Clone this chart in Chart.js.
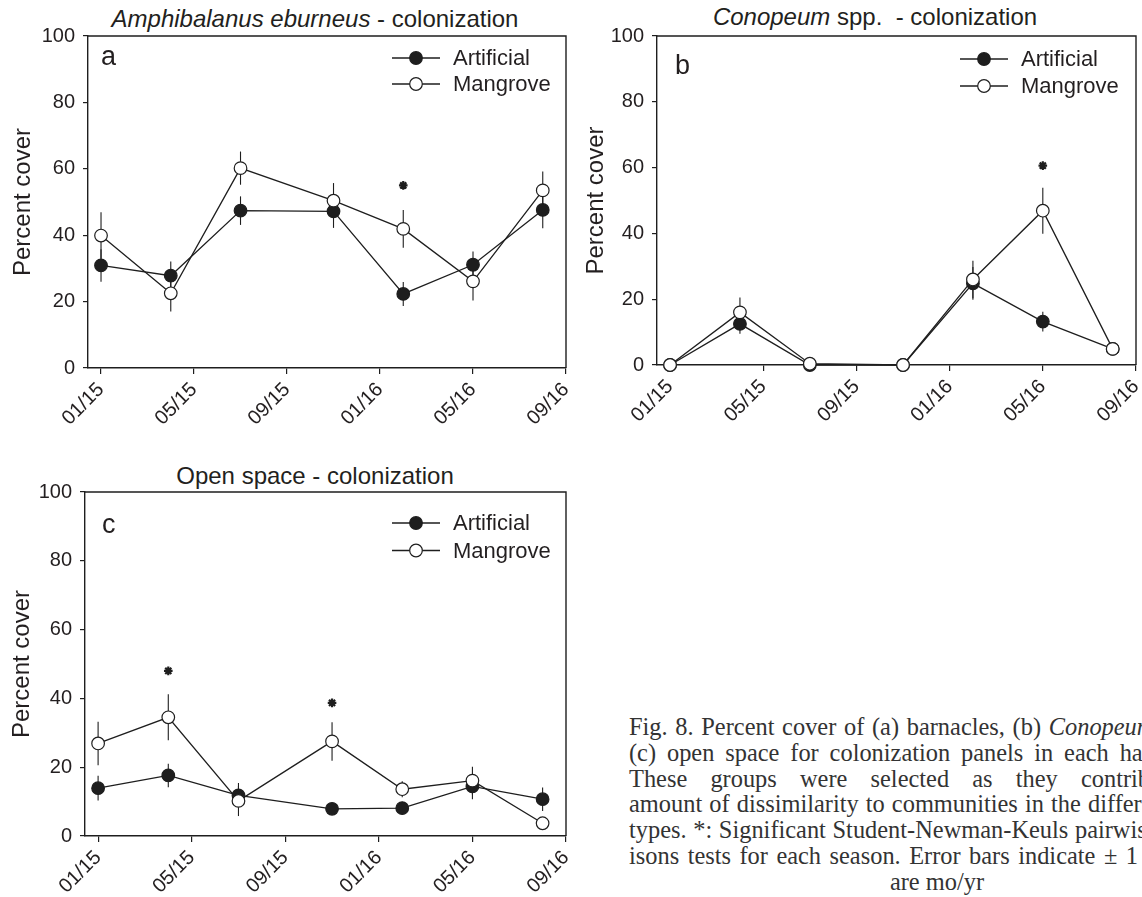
<!DOCTYPE html>
<html>
<head>
<meta charset="utf-8">
<title>Percent cover - colonization</title>
<script src="https://cdn.jsdelivr.net/npm/chart.js@4.4.0/dist/chart.umd.min.js"></script>
<style>
  html, body { margin: 0; padding: 0; background: #fff; }
  body { width: 1142px; height: 897px; overflow: hidden; position: relative;
         font-family: 'Liberation Sans', Arial, sans-serif; color: #231f20; }
  .panel { position: absolute; }
  .ptitle { position: absolute; transform: translate(-50%, -50%); white-space: nowrap; font-size: 24px; }
  .caption { position: absolute; left: 629px; top: 714px; width: 616px;
             font-family: 'Liberation Serif', 'Times New Roman', serif; font-size: 24.4px;
             line-height: 25.8px; color: #333; }
  .caption div { text-align: justify; text-align-last: justify; }
  .caption div.last { text-align: center; text-align-last: center; }
</style>
</head>
<body>

<div class="ptitle" style="left:315px; top:19px;"><i>Amphibalanus eburneus</i> - colonization</div>
<div class="ptitle" style="left:875px; top:17px;"><i>Conopeum</i> spp.&nbsp; - colonization</div>
<div class="ptitle" style="left:315px; top:476px;">Open space - colonization</div>

<div class="panel" id="boxA"><canvas id="chartA"></canvas></div>
<div class="panel" id="boxB"><canvas id="chartB"></canvas></div>
<div class="panel" id="boxC"><canvas id="chartC"></canvas></div>

<div class="caption">
  <div>Fig. 8. Percent cover of (a) barnacles, (b) <i>Conopeum</i> spp. and</div>
  <div>(c) open space for colonization panels in each habitat type.</div>
  <div>These groups were selected as they contributed the</div>
  <div>amount of dissimilarity to communities in the different habitat</div>
  <div>types. *: Significant Student-Newman-Keuls pairwise compar-</div>
  <div>isons tests for each season. Error bars indicate ± 1 SE. Dates</div>
  <div class="last">are mo/yr</div>
</div>

<script>
// sampling dates, as months after 01/15
const months = [0, 3, 6, 10, 13, 16, 19];
const tickMonths = [0, 4, 8, 12, 16, 20];
const tickLabels = ['01/15', '05/15', '09/15', '01/16', '05/16', '09/16'];
const seriesNames = ['Artificial', 'Mangrove'];

// (a) Amphibalanus eburneus
const barnArtificial = [30.9, 27.8, 47.4, 47.2, 22.3, 31.1, 47.6];
const barnArtificialErr = [4.9, 4.3, 4.3, 5.0, 3.6, 4.0, 5.5];
const barnMangrove = [39.9, 22.5, 60.2, 50.4, 41.9, 26.1, 53.5];
const barnMangroveErr = [7.0, 5.5, 5.0, 5.3, 5.7, 5.8, 5.7];
const barnSigX = [13];
const barnSigY = [55];

// (b) Conopeum spp.
const conoArtificial = [0, 12.5, 0, 0, 24.8, 13.2, 4.9];
const conoArtificialErr = [0, 3.0, 0, 0, 5.0, 3.0, 0];
const conoMangrove = [0, 16.0, 0.4, 0, 26.0, 46.9, 4.9];
const conoMangroveErr = [0, 4.5, 0, 0, 5.7, 7.0, 0];
const conoSigX = [16];
const conoSigY = [60.6];

// (c) Open space
const openArtificial = [13.9, 17.6, 11.8, 7.9, 8.1, 14.4, 10.7];
const openArtificialErr = [3.6, 3.4, 3.6, 1.0, 1.0, 3.7, 3.4];
const openMangrove = [26.9, 34.5, 10.2, 27.5, 13.6, 16.1, 3.7];
const openMangroveErr = [6.3, 6.7, 4.4, 5.6, 2.3, 4.0, 1.0];
const openSigX = [3, 10];
const openSigY = [48, 38.7];

const ink = '#1e1e1e';
const textInk = '#231f20';
Chart.defaults.font.family = "'Liberation Sans', Arial, sans-serif";
Chart.defaults.color = textInk;

// vertical +/- error lines, drawn under lines and markers
const errorBars = {
    id: 'errorBars',
    beforeDatasetsDraw(chart) {
        const ctx = chart.ctx;
        const xs = chart.scales.x, ys = chart.scales.y;
        ctx.save();
        ctx.strokeStyle = ink;
        ctx.lineWidth = 1.1;
        chart.data.datasets.forEach(ds => {
            if (!ds.errors) return;
            ds.data.forEach((p, i) => {
                const e = ds.errors[i];
                if (!e) return;
                const x = xs.getPixelForValue(p.x);
                ctx.beginPath();
                ctx.moveTo(x, ys.getPixelForValue(p.y - e));
                ctx.lineTo(x, ys.getPixelForValue(p.y + e));
                ctx.stroke();
            });
        });
        ctx.restore();
    }
};

// closes the plot box (top and right sides)
const frame = {
    id: 'frame',
    beforeDatasetsDraw(chart) {
        const a = chart.chartArea, ctx = chart.ctx;
        ctx.save();
        ctx.strokeStyle = ink;
        ctx.lineWidth = 1.4;
        ctx.beginPath();
        ctx.moveTo(a.left, a.top);
        ctx.lineTo(a.right, a.top);
        ctx.lineTo(a.right, a.bottom);
        ctx.stroke();
        ctx.restore();
    }
};

// panel letter + line/marker legend
const decor = {
    id: 'decor',
    afterDraw(chart, args, opts) {
        const a = chart.chartArea, ctx = chart.ctx;
        ctx.save();
        ctx.fillStyle = textInk;
        ctx.font = "27px 'Liberation Sans', Arial, sans-serif";
        ctx.textBaseline = 'alphabetic';
        ctx.textAlign = 'left';
        ctx.fillText(opts.letter, a.left + opts.letterX, a.top + opts.letterY);

        const x0 = a.right - opts.legendX;
        chart.data.datasets.filter(ds => seriesNames.includes(ds.label)).forEach((ds, i) => {
            const y = a.top + opts.legendY + i * opts.legendGap;
            ctx.strokeStyle = ink;
            ctx.lineWidth = 1.3;
            ctx.beginPath();
            ctx.moveTo(x0, y);
            ctx.lineTo(x0 + 48, y);
            ctx.stroke();
            ctx.beginPath();
            ctx.arc(x0 + 24, y, 6.3, 0, Math.PI * 2);
            ctx.fillStyle = ds.pointBackgroundColor;
            ctx.fill();
            ctx.lineWidth = 1.2;
            ctx.stroke();
            ctx.fillStyle = textInk;
            ctx.font = "22px 'Liberation Sans', Arial, sans-serif";
            ctx.textBaseline = 'middle';
            ctx.fillText(ds.label, x0 + 61, y + 1);
        });
        ctx.restore();
    }
};

function makePanel(boxId, canvasId, cfg) {
    const box = document.getElementById(boxId);
    const padRight = 24, xAxisH = 75;
    box.style.left = cfg.boxLeft + 'px';
    box.style.top = cfg.boxTop + 'px';
    box.style.width = (cfg.area.right - cfg.boxLeft + padRight) + 'px';
    box.style.height = (cfg.area.bottom - cfg.boxTop + xAxisH) + 'px';
    const yAxisW = cfg.area.left - cfg.boxLeft;

    const toPoints = vals => months.map((m, i) => ({ x: m, y: vals[i] }));

    new Chart(document.getElementById(canvasId), {
        type: 'line',
        data: {
            datasets: [
                {
                    label: seriesNames[0],
                    data: toPoints(cfg.artificial),
                    errors: cfg.artificialErr,
                    borderColor: ink,
                    borderWidth: 1.3,
                    pointBackgroundColor: ink,
                    pointBorderColor: ink,
                    pointBorderWidth: 1.2,
                    pointRadius: 6.3,
                    pointHoverRadius: 6.3,
                    tension: 0,
                    clip: false,
                    order: 2
                },
                {
                    label: seriesNames[1],
                    data: toPoints(cfg.mangrove),
                    errors: cfg.mangroveErr,
                    borderColor: ink,
                    borderWidth: 1.3,
                    pointBackgroundColor: '#ffffff',
                    pointBorderColor: ink,
                    pointBorderWidth: 1.2,
                    pointRadius: 6.3,
                    pointHoverRadius: 6.3,
                    tension: 0,
                    clip: false,
                    order: 1
                },
                {
                    label: 'significant',
                    data: cfg.sigX.map((x, i) => ({ x: x, y: cfg.sigY[i] })),
                    showLine: false,
                    pointStyle: 'star',
                    pointRadius: 4.3,
                    pointBorderWidth: 2.2,
                    pointBorderColor: ink,
                    borderColor: ink,
                    clip: false,
                    order: 0
                }
            ]
        },
        options: {
            responsive: true,
            maintainAspectRatio: false,
            animation: false,
            events: [],
            layout: { padding: { top: cfg.area.top - cfg.boxTop, right: padRight, left: 0, bottom: 0 } },
            plugins: {
                legend: { display: false },
                tooltip: { enabled: false },
                decor: cfg.decor
            },
            scales: {
                x: {
                    type: 'linear',
                    min: -0.56,
                    max: 20,
                    afterBuildTicks: s => { s.ticks = tickMonths.map(v => ({ value: v })); },
                    afterFit: s => { s.height = xAxisH; },
                    ticks: {
                        callback: (v, i) => tickLabels[i],
                        minRotation: 45,
                        maxRotation: 45,
                        autoSkip: false,
                        padding: 4,
                        color: textInk,
                        font: { size: 20 }
                    },
                    grid: { drawOnChartArea: false, tickLength: 6, color: ink, lineWidth: 1.2 },
                    border: { color: ink, width: 1.4 }
                },
                y: {
                    min: 0,
                    max: 100,
                    afterFit: s => { s.width = yAxisW; },
                    ticks: { stepSize: 20, padding: 8, color: textInk, font: { size: 20 } },
                    grid: { drawOnChartArea: false, tickLength: 5, color: ink, lineWidth: 1.2 },
                    border: { color: ink, width: 1.4 },
                    title: {
                        display: true,
                        text: 'Percent cover',
                        color: textInk,
                        font: { size: 24 },
                        padding: { top: cfg.titlePad, bottom: 0 }
                    }
                }
            }
        },
        plugins: [errorBars, frame, decor]
    });
}

makePanel('boxA', 'chartA', {
    boxLeft: 0, boxTop: 0,
    area: { left: 88, top: 36, right: 566, bottom: 368 },
    artificial: barnArtificial, artificialErr: barnArtificialErr,
    mangrove: barnMangrove, mangroveErr: barnMangroveErr,
    sigX: barnSigX, sigY: barnSigY,
    titlePad: 9,
    decor: { letter: 'a', letterX: 13, letterY: 29, legendX: 174, legendY: 22, legendGap: 26 }
});

makePanel('boxB', 'chartB', {
    boxLeft: 569, boxTop: 0,
    area: { left: 657, top: 36, right: 1136, bottom: 365 },
    artificial: conoArtificial, artificialErr: conoArtificialErr,
    mangrove: conoMangrove, mangroveErr: conoMangroveErr,
    sigX: conoSigX, sigY: conoSigY,
    titlePad: 13,
    decor: { letter: 'b', letterX: 18, letterY: 38, legendX: 176, legendY: 23, legendGap: 27 }
});

makePanel('boxC', 'chartC', {
    boxLeft: 0, boxTop: 456,
    area: { left: 85, top: 492, right: 566, bottom: 836 },
    artificial: openArtificial, artificialErr: openArtificialErr,
    mangrove: openMangrove, mangroveErr: openMangroveErr,
    sigX: openSigX, sigY: openSigY,
    titlePad: 8,
    decor: { letter: 'c', letterX: 17, letterY: 41, legendX: 174, legendY: 31, legendGap: 27.5 }
});
</script>
</body>
</html>
